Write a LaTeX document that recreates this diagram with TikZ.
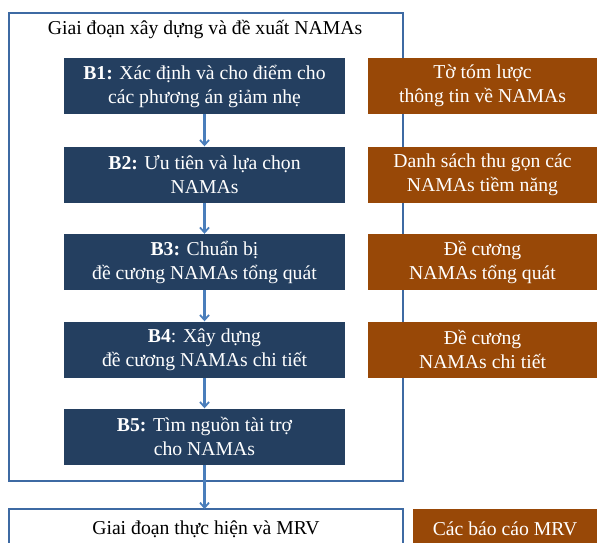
\documentclass[tikz,border=0pt]{standalone}
\usepackage{fontspec}
\setmainfont{Liberation Serif}
\usetikzlibrary{arrows.meta}
\definecolor{navy}{HTML}{243F60}
\definecolor{rust}{HTML}{984807}
\definecolor{frame}{HTML}{3E6AA3}
\definecolor{arr}{HTML}{4A7EBB}
\tikzset{
  stepbox/.style={fill=navy, text=white, minimum width=281pt, minimum height=56pt, align=center, inner sep=0pt, font=\fontsize{19.7}{24}\selectfont},
  outbox/.style={fill=rust, text=white, minimum width=229pt, minimum height=56pt, align=center, inner sep=0pt, font=\fontsize{19.7}{24}\selectfont},
  flow/.style={draw=arr, line width=2.3pt, -{Straight Barb[length=5pt,width=9pt,line width=1.8pt]}},
  phase/.style={draw=frame, line width=2pt},
  title/.style={font=\fontsize{19.7}{24}\selectfont, inner sep=0pt}
}
\begin{document}
\begin{tikzpicture}[x=1pt,y=-1pt]
\clip (0,0) rectangle (597,543);
\fill[white] (0,0) rectangle (597,543);
\draw[phase] (9,13) rectangle (403,481);
\node[title] (t1) at (205,29) {Giai đoạn xây dựng và đề xuất NAMAs};
\draw[phase] (9,550) -- (9,509) -- (403,509) -- (403,550);
\node[title] (t2) at (206,529) {Giai đoạn thực hiện và MRV};

\node[stepbox] (b1) at (204.5,86) {\textbf{B1:} Xác định và cho điểm cho\\các phương án giảm nhẹ};
\node[stepbox] (b2) at (204.5,174.5) {\textbf{B2:} Ưu tiên và lựa chọn\\NAMAs};
\node[stepbox] (b3) at (204.5,262) {\textbf{B3:} Chuẩn bị\\đề cương NAMAs tổng quát};
\node[stepbox] (b4) at (204.5,349.5) {\textbf{B4}: Xây dựng\\đề cương NAMAs chi tiết};
\node[stepbox] (b5) at (204.5,436.5) {\textbf{B5:} Tìm nguồn tài trợ\\cho NAMAs};

\node[outbox] (o1) at (482.5,86) {Tờ tóm lược\\thông tin về NAMAs};
\node[outbox] (o2) at (482.5,174.5) {Danh sách thu gọn các\\NAMAs tiềm năng};
\node[outbox] (o3) at (482.5,262) {Đề cương\\NAMAs tổng quát};
\node[outbox] (o4) at (482.5,349.5) {Đề cương\\NAMAs chi tiết};
\node[outbox, minimum width=184pt, minimum height=60pt, anchor=north] (o5) at (505,509) {};
\node[font=\fontsize{19.7}{24}\selectfont, text=white, inner sep=0pt] (o5t) at (505,529) {Các báo cáo MRV};

\coordinate (p) at (204.5,509);
\draw[flow] (b1) -- (b2);
\draw[flow] (b2) -- (b3);
\draw[flow] (b3) -- (b4);
\draw[flow] (b4) -- (b5);
\draw[flow] (b5.south) -- (p);
\end{tikzpicture}
\end{document}
